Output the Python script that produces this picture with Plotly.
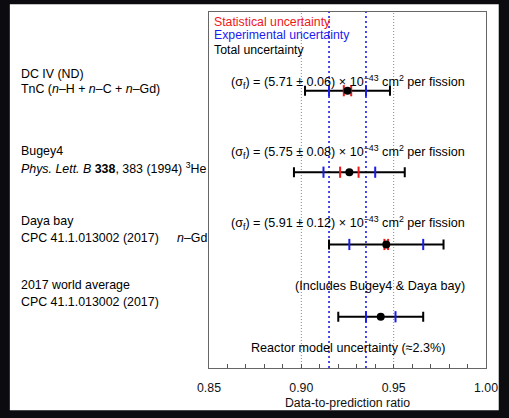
import plotly.graph_objects as go

# Measured data-to-prediction ratios, one entry per experiment (top to bottom)
experiments = ["DC IV (ND)", "Bugey4", "Daya bay", "2017 world average"]
ratio = [0.925, 0.926, 0.946, 0.943]
stat_err = [0.002, 0.005, 0.001, None]
exp_err = [0.010, 0.014, 0.020, 0.008]
total_err = [0.023, 0.030, 0.031, 0.023]

# Cross-section statements shown above each measurement
sigma_vals = ["5.71", "5.75", "5.91"]
sigma_errs = ["0.06", "0.08", "0.12"]

# Reference lines: reactor-model band and DC experimental band
model_lines = [0.90, 0.95]
dc_exp_lines = [0.915, 0.935]

x_ticks = [0.85, 0.90, 0.95, 1.00]
x_tick_text = ["0.85", "0.90", "0.95", "1.00"]

RED = "#f01818"
BLUE = "#1c1cf0"
FONT = "Liberation Sans, Arial, Helvetica, sans-serif"

# vertical placement of rows on a 0..10 axis
row_y = [7.79, 5.50, 3.47, 1.44]
text_y = [8.04, 6.06, 4.07]

fig = go.Figure()

# dark surround of the page with white card
fig.add_shape(type="rect", xref="paper", yref="paper",
              x0=-0.719, x1=1.046, y0=-0.119, y1=1.022,
              fillcolor="white", line=dict(width=0), layer="below")

for xv in model_lines:
    fig.add_shape(type="line", xref="x", yref="paper", x0=xv, x1=xv, y0=0, y1=1,
                  line=dict(color="#8a8a8a", width=1, dash="1px,2px"), layer="below")
for xv in dc_exp_lines:
    fig.add_shape(type="line", xref="x", yref="paper", x0=xv, x1=xv, y0=0, y1=1,
                  line=dict(color=BLUE, width=1.6, dash="2px,3px"), layer="below")

# total uncertainty bars
fig.add_trace(go.Scatter(
    x=ratio, y=row_y, mode="markers",
    marker=dict(size=1, color="rgba(0,0,0,0)"),
    error_x=dict(type="data", array=total_err, color="black", thickness=2, width=5),
    showlegend=False, hoverinfo="skip"))

# experimental uncertainty ticks
bx, by = [], []
for c, e, yy in zip(ratio, exp_err, row_y):
    bx += [c - e, c + e]
    by += [yy, yy]
fig.add_trace(go.Scatter(
    x=bx, y=by, mode="markers",
    marker=dict(symbol="line-ns", size=8, line=dict(color=BLUE, width=2)),
    showlegend=False, hoverinfo="skip"))

# statistical uncertainty ticks
rx, ry = [], []
for c, e, yy in zip(ratio, stat_err, row_y):
    if e is None:
        continue
    rx += [c - e, c + e]
    ry += [yy, yy]
fig.add_trace(go.Scatter(
    x=rx, y=ry, mode="markers",
    marker=dict(symbol="line-ns", size=8, line=dict(color=RED, width=2)),
    showlegend=False, hoverinfo="skip"))

# central values
fig.add_trace(go.Scatter(
    x=ratio, y=row_y, mode="markers",
    marker=dict(symbol="circle", size=8, color="black"),
    showlegend=False, hoverinfo="skip"))

ann = []
fs_in = 12.6
fs_key = 12.3
fs_left = 12.4

def add_text(text, x, y, xref="x", yref="y", anchor="center", color="black", size=fs_in):
    ann.append(dict(text=text, x=x, y=y, xref=xref, yref=yref, xanchor=anchor,
                    yanchor="middle", showarrow=False,
                    font=dict(family=FONT, size=size, color=color)))

for v, e, yy in zip(sigma_vals, sigma_errs, text_y):
    add_text("(σ<sub>f</sub>) = (%s ± %s) × 10<sup>−43</sup> cm<sup>2</sup> per fission" % (v, e),
             0.925, yy)

add_text("(Includes Bugey4 &amp; Daya bay)", 0.9427, 2.29)
add_text("Reactor model uncertainty (≈2.3%)", 0.9255, 0.56)

# uncertainty key in the top-left corner of the frame
add_text("Statistical uncertainty", 0.012, 9.72, xref="paper", anchor="left", color=RED, size=fs_key)
add_text("Experimental uncertainty", 0.012, 9.35, xref="paper", anchor="left", color=BLUE, size=fs_key)
add_text("Total uncertainty", 0.012, 8.94, xref="paper", anchor="left", size=fs_key)

# experiment descriptions left of the frame
lx = -0.686
add_text("DC IV (ND)", lx, 8.25, xref="paper", anchor="left", size=fs_left)
add_text("TnC (<i>n</i>–H + <i>n</i>–C + <i>n</i>–Gd)", lx, 7.85, xref="paper",
         anchor="left", size=fs_left)
add_text("Bugey4", lx, 6.09, xref="paper", anchor="left", size=fs_left)
add_text("<i>Phys. Lett. B</i> <b>338</b>, 383 (1994) <sup>3</sup>He", lx, 5.61,
         xref="paper", anchor="left", size=fs_left)
add_text("Daya bay", lx, 4.12, xref="paper", anchor="left", size=fs_left)
add_text("CPC 41.1.013002 (2017)", lx, 3.66, xref="paper", anchor="left", size=fs_left)
add_text("<i>n</i>–Gd", 0.0, 3.66, xref="paper", anchor="right", size=fs_left)
add_text("2017 world average", lx, 2.32, xref="paper", anchor="left", size=fs_left)
add_text("CPC 41.1.013002 (2017)", lx, 1.85, xref="paper", anchor="left", size=fs_left)

fig.update_layout(
    width=509, height=418,
    margin=dict(l=209, r=19, t=11, b=46),
    paper_bgcolor="#0b0b10",
    plot_bgcolor="rgba(0,0,0,0)",
    annotations=ann,
    font=dict(family=FONT, size=12, color="black"),
    xaxis=dict(
        range=[0.85, 1.00], tickvals=x_ticks, ticktext=x_tick_text,
        ticks="inside", ticklen=4, tickcolor="#555", showgrid=False, zeroline=False,
        showline=True, linecolor="#666", linewidth=1.2, mirror=True,
        minor=dict(dtick=0.01, tick0=0.85, ticks="inside", ticklen=4, tickcolor="#555"),
        ticklabelstandoff=8,
        tickfont=dict(family=FONT, size=12.3, color="#111"),
        title=dict(text="Data-to-prediction ratio", standoff=4,
                   font=dict(family=FONT, size=12.3, color="#111")),
    ),
    yaxis=dict(range=[0, 10], showticklabels=False, ticks="", showgrid=False,
               zeroline=False, showline=True, linecolor="#666", linewidth=1.2,
               mirror=True),
)

fig.write_html("out.html")
